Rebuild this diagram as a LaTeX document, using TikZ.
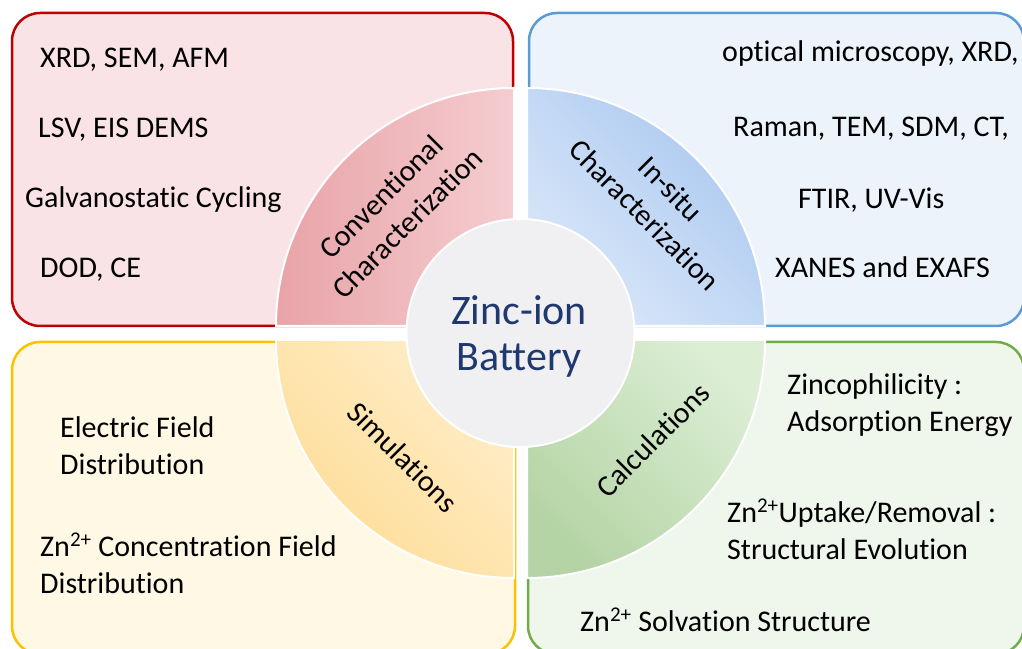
\documentclass[tikz,border=0pt]{standalone}
\usepackage{fontspec}
\setmainfont{Carlito}[Ligatures=NoCommon]

\definecolor{redline}{RGB}{192,0,0}
\definecolor{redfill}{RGB}{249,227,230}
\definecolor{reddark}{RGB}{232,163,168}
\definecolor{redlight}{RGB}{245,205,208}
\definecolor{blueline}{RGB}{91,155,213}
\definecolor{bluefill}{RGB}{236,243,250}
\definecolor{bluedark}{RGB}{170,200,240}
\definecolor{bluelight}{RGB}{218,232,249}
\definecolor{yellowline}{RGB}{255,192,0}
\definecolor{yellowfill}{RGB}{255,248,229}
\definecolor{yellowdark}{RGB}{254,220,148}
\definecolor{yellowlight}{RGB}{255,238,202}
\definecolor{greenline}{RGB}{112,173,71}
\definecolor{greenfill}{RGB}{239,246,236}
\definecolor{greendark}{RGB}{180,212,165}
\definecolor{greenlight}{RGB}{220,238,212}
\definecolor{hubfill}{RGB}{240,240,242}
\definecolor{navy}{RGB}{31,56,110}

\begin{document}
\begin{tikzpicture}[x=1pt, y=1pt,
  every node/.style = {inner sep=0pt, font=\fontsize{30}{37}\selectfont},
  item/.style = {anchor=base west, align=left},
  panel/.style = {line width=2.5pt, rounded corners=28pt},
  sector/.style = {draw=white, line width=2pt}]
  \useasboundingbox (0,0) rectangle (1022,648);
  \clip (0,0) rectangle (1022,648);

  % panels
  \filldraw[panel, draw=redline, fill=redfill] (12,322) rectangle (513,635);
  \filldraw[panel, draw=blueline, fill=bluefill] (529,322) rectangle (1024,635);
  \filldraw[panel, draw=yellowline, fill=yellowfill] (12,-6) rectangle (515,306);
  \filldraw[panel, draw=greenline, fill=greenfill] (528,-6) rectangle (1024,306);

  % quarter rings
  \shadedraw[sector, left color=reddark, right color=redlight]
    (514,322) -- (276,322) arc[start angle=180, end angle=90, radius=238] -- cycle;
  \shadedraw[sector, top color=bluedark, bottom color=bluelight, shading angle=-45]
    (527,322) -- (765,322) arc[start angle=0, end angle=90, radius=238] -- cycle;
  \shadedraw[sector, top color=yellowlight, bottom color=yellowdark, shading angle=-45]
    (514,308) -- (276,308) arc[start angle=180, end angle=270, radius=238] -- cycle;
  \shadedraw[sector, top color=greenlight, bottom color=greendark, shading angle=-45]
    (527,308) -- (765,308) arc[start angle=0, end angle=-90, radius=238] -- cycle;

  % hub
  \node[circle, fill=hubfill, draw=white, line width=2pt, minimum size=228pt] (hub) at (520.5,315) {};
  \node[align=center, text=navy, font=\fontsize{42}{46}\selectfont] (hubtext) at (519,312) {Zinc-ion\\Battery};

  \node[rotate=45, align=center] (conv) at (394,438) {Conventional\\Characterization};
  \node[rotate=-45, align=center] (insitu) at (658,446) {In-situ\\Characterization};
  \node[rotate=-45] (simu) at (403,191) {Simulations};
  \node[rotate=45] (calc) at (653,208) {Calculations};

  % conventional
  \node[item] (xrd) at (40,580) {XRD, SEM, AFM};
  \node[item] (lsv) at (38,510) {LSV, EIS DEMS};
  \node[item] (galv) at (25,440) {Galvanostatic Cycling};
  \node[item] (dod) at (40,370) {DOD, CE};

  % in-situ
  \node[item] (optic) at (722,586) {optical microscopy, XRD,};
  \node[item] (raman) at (733,511) {Raman, TEM, SDM, CT,};
  \node[item] (ftir) at (798,439) {FTIR, UV-Vis};
  \node[item] (xanes) at (775,370) {XANES and EXAFS};

  % simulations
  \node[item] (efield) at (60,173) {Electric Field\\Distribution};
  \node[item] (cfield) at (40,55) {Zn\textsuperscript{2+} Concentration Field\\Distribution};

  % calculations
  \node[item] (zinco) at (787,216) {Zincophilicity :\\Adsorption Energy};
  \node[item] (uptake) at (727,89) {Zn\textsuperscript{2+}Uptake/Removal :\\Structural Evolution};
  \node[item] (solv) at (580,17) {Zn\textsuperscript{2+} Solvation Structure};
\end{tikzpicture}
\end{document}
